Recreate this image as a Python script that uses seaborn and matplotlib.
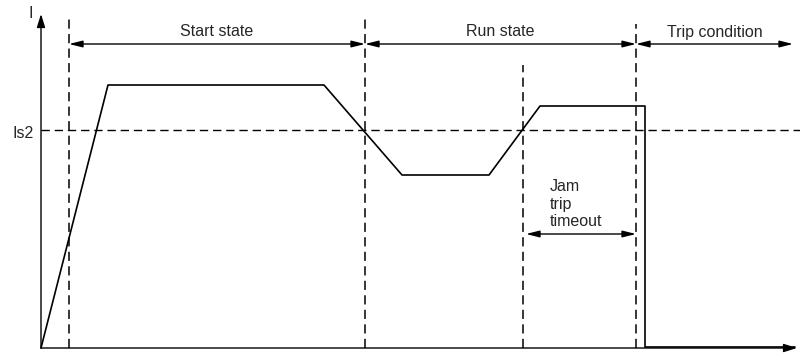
import matplotlib
matplotlib.use("Agg")
import matplotlib.pyplot as plt
import seaborn as sns
import pandas as pd

# current profile (time, current) in drawing units, origin at axis corner
t_curve = [0, 67, 283, 361, 448, 499, 604, 604, 754]
i_curve = [0, 263, 263, 173, 173, 242, 242, 1, 1]
is2 = 218

# vertical marker lines: x position and top
marks_x = [28, 324, 482, 595]
marks_top = [331, 331, 283, 324]

# state spans at the top
spans = [(28, 324, "Start state"), (324, 595, "Run state"), (595, 752, "Trip condition")]
jam_span = (485, 595)

sns.set_theme(style="white")
plt.rcParams["font.family"] = ["Liberation Sans", "DejaVu Sans"]

fig = plt.figure(figsize=(8, 3.56), dpi=100)
ax = fig.add_axes([0, 0, 1, 1])
ax.set_xlim(-41, 759)
ax.set_ylim(-8, 348)
ax.axis("off")

df = pd.DataFrame({"t": t_curve, "i": i_curve})
sns.lineplot(data=df, x="t", y="i", sort=False, estimator=None, color="black", lw=1.2, ax=ax)

# axes with arrows
axis_kw = dict(arrowstyle="-|>,head_length=0.8,head_width=0.25", color="black", lw=1.0,
               mutation_scale=10, shrinkA=0, shrinkB=0)
ax.annotate("", xy=(0, 334), xytext=(0, 0), arrowprops=axis_kw)
ax.annotate("", xy=(756, 0), xytext=(0, 0), arrowprops=axis_kw)
ax.text(-10, 334, "I", fontsize=11.5, ha="center", va="center")

dash = (0, (6, 3.5))
# Is2 threshold
ax.plot([0, 759], [is2, is2], color="black", lw=1.0, ls=dash)
ax.text(-18, is2 - 3, "Is2", fontsize=11.5, ha="center", va="center")

for x, top in zip(marks_x, marks_top):
    ax.plot([x, x], [0, top], color="black", lw=1.1, ls=dash)

arrow_kw = dict(arrowstyle="<|-|>,head_length=0.8,head_width=0.2", color="black", lw=1.0,
                mutation_scale=10, shrinkA=0, shrinkB=0)
for x0, x1, label in spans:
    ax.annotate("", xy=(x1, 304), xytext=(x0, 304), arrowprops=arrow_kw)
    ax.text((x0 + x1) / 2, 316, label, fontsize=11.5, ha="center", va="center")

ax.annotate("", xy=(jam_span[1], 114), xytext=(jam_span[0], 114), arrowprops=arrow_kw)
ax.text(509, 144, "Jam\ntrip\ntimeout", fontsize=11.5, ha="left", va="center", linespacing=1.2)

fig.savefig("out.png", dpi=100)
